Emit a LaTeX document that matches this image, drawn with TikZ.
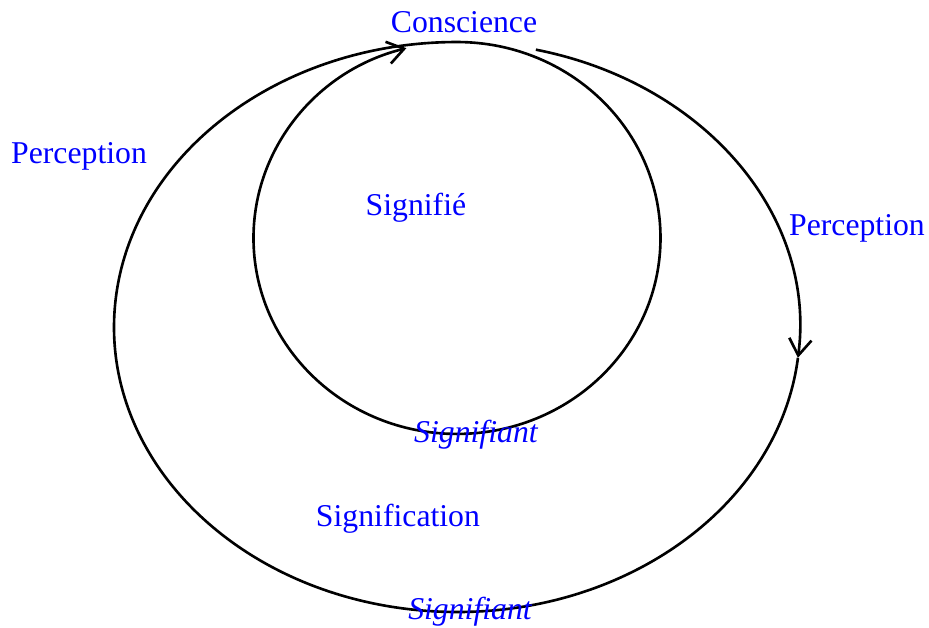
\documentclass[tikz,border=0pt]{standalone}
\usepackage{fontspec}
\setmainfont{Liberation Serif}
\usepackage{tikz}
\usetikzlibrary{positioning, calc, arrows.meta}

\tikzset{
    lbl/.style={text=blue, font=\fontsize{12.1}{14}\selectfont, inner sep=1pt},
    lblit/.style={lbl, font=\fontsize{12.1}{14}\selectfont\itshape},
    loop line/.style={line width=1pt}
}

\begin{document}
\begin{tikzpicture}[>={Straight Barb[length=2.2mm,width=3mm]}]

    \useasboundingbox (0,0) rectangle (12.449,8.415);

    % --- Centre of the outer loop ---
    \coordinate (outer) at (6.124,4.033);

    % --- Outer loop, right side down to the arrow ---
    \draw[loop line, ->] ($(outer)+(76.7:4.596 and 3.819)$)
        arc[start angle=76.7, end angle=-6.2, x radius=4.596, y radius=3.819];

    % --- Rest of the outer loop, running into the inner loop at the top ---
    \draw[loop line, ->] ($(outer)+(-6.2:4.596 and 3.819)$)
        arc[start angle=-6.2, end angle=-270, x radius=4.596, y radius=3.819]
        arc[start angle=90, end angle=-255.6, x radius=2.727, y radius=2.626];

    % --- Labels ---
    \node[lbl] (conscience) at (6.218,8.114) {Conscience};
    \node[lbl] (percleft) at (1.059,6.325) {Perception};
    \node[lbl] (percright) at (11.484,5.360) {Perception};
    \node[lbl] (signifie) at (5.574,5.628) {Signifié};
    \node[lblit] (signinner) at (6.378,2.593) {Signifiant};
    \node[lbl] (signification) at (5.333,1.461) {Signification};
    \node[lblit] (signouter) at (6.298,0.221) {Signifiant};

\end{tikzpicture}
\end{document}
